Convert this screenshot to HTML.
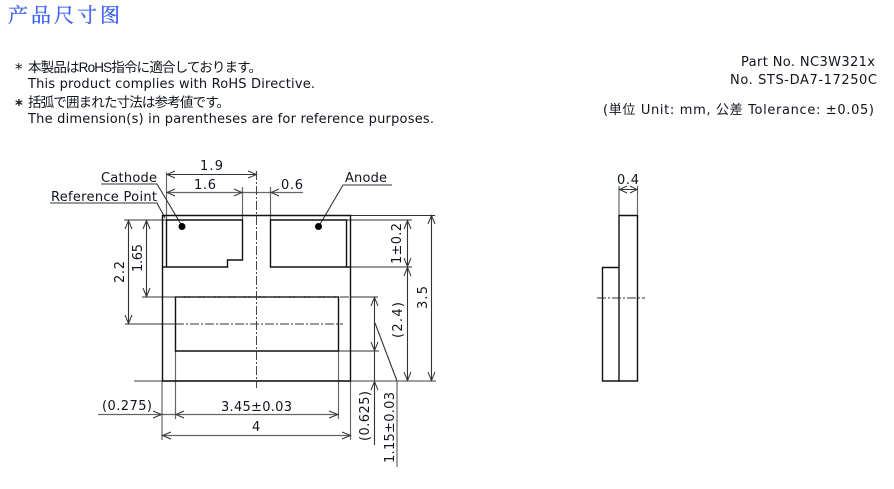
<!DOCTYPE html>
<html><head><meta charset="utf-8"><style>
html,body{margin:0;padding:0;background:#fff}
svg{display:block}
text{font-family:"DejaVu Sans","Noto Sans CJK JP",sans-serif;font-size:13px;fill:#10141c}
.c{font-family:"Liberation Sans","Noto Sans CJK JP",sans-serif;font-size:13.5px}
.k{stroke:#111;stroke-width:1.4;fill:none}
.t{stroke:#333;stroke-width:1.1;fill:none}
.g{stroke:#666;stroke-width:1.2;fill:none}
.d{stroke:#333;stroke-width:.9;fill:none;stroke-dasharray:9 2 2 2}
.a{stroke:#333;stroke-width:1;fill:none}
</style></head><body>
<svg xmlns="http://www.w3.org/2000/svg" width="894" height="489" viewBox="0 0 894 489">
<text x="8" y="22" style="font-family:'Noto Serif CJK SC',serif;font-size:20px;fill:#3f62f2;stroke:#3f62f2;stroke-width:.35" textLength="112">产品尺寸图</text>

<text x="15" y="74" style="font-size:15px">*</text>
<text x="28" y="72" class="c" textLength="234">本製品はRoHS指令に適合しております。</text>
<text x="28" y="88" textLength="287">This product complies with RoHS Directive.</text>
<text x="15" y="110" style="font-size:15px;font-weight:bold">*</text>
<text x="28" y="107" class="c" textLength="202">括弧で囲まれた寸法は参考値です。</text>
<text x="28" y="123" textLength="406">The dimension(s) in parentheses are for reference purposes.</text>

<text x="741" y="66" textLength="134">Part No. NC3W321x</text>
<text x="730" y="84" textLength="147">No. STS-DA7-17250C</text>
<text x="603" y="114" textLength="271">(単位 Unit: mm, 公差 Tolerance: ±0.05)</text>

<!-- extension and dimension lines -->
<path class="g" d="M166.5 172V220M242.5 187V220M270.5 187V220M162 381V440M175.5 351V419M338.5 351V419M350.5 381V440"/>
<path class="t" d="M124 220H166M142 297H175M125 324H175M350 215.5H435M346 220H412M350 267H412M350 297H378M338 351H379M134 381H436"/>
<path class="t" d="M166.5 174.500H256.500M167 192.500H303M128.500 220V324M146.500 220V297M407.500 220V381M431.500 215.500V381M374.500 297V445M98 414.500H338M162 435.500H350"/>
<path class="g" d="M167 192.500H303M98 414.500H338M162 435.500H350M134 381H436"/>
<path class="t" d="M375 323L397 381"/>
<path class="g" d="M397 381V467"/>

<!-- leaders -->
<path class="t" d="M101 184H157L182 226M50 203H157L165 218M392 185H343L319 226"/>
<circle cx="182" cy="226.500" r="3.500" fill="#000"/>
<circle cx="318.500" cy="226.500" r="3.500" fill="#000"/>

<!-- main body -->
<path class="k" d="M162.500 215.500H350.500V381H162.500Z"/>
<path class="k" d="M166.500 220H242.500V260H227.500V267H166.500ZM162.500 267H227.500"/>
<path class="k" d="M270.500 267V220H346.500V267ZM346 267H350"/>
<path class="k" d="M175.500 297H338.500V351H175.500Z"/>
<path class="d" d="M256.500 171V388M175 297H350M175 324H343"/>

<!-- arrowheads -->
<path class="a" d="M175 171L167 174.500L175 178M248 171L256.500 174.500L248 178M175 189L167 192.500L175 196M234 189L242 192.500L234 196M279 189L271 192.500L279 196"/>
<path class="a" d="M125 229L128.500 220.500L132 229M125 315L128.500 323.500L132 315M143 229L146.500 220.500L150 229M143 288L146.500 296.500L150 288"/>
<path class="a" d="M404 229L407.500 220.500L411 229M404 258L407.500 266.500L411 258M404 276L407.500 267.500L411 276M404 372L407.500 380.500L411 372M428 224L431.500 215.500L435 224M428 372L431.500 380.500L435 372"/>
<path class="a" d="M371 306L374.500 297.500L378 306M371 342L374.500 350.500L378 342M371 390L374.500 381.500L378 390"/>
<path class="a" d="M153 411L161.500 414.500L153 418M184 411L176 414.500L184 418M329 411L338 414.500L329 418M171 432L162.500 435.500L171 439M342 432L350.500 435.500L342 439"/>

<!-- side view -->
<path class="k" d="M619 215.500H637.500V381H619ZM619 267.500H602.500V381H619"/>
<path class="d" d="M597 298H645"/>
<path class="g" d="M619 186V215M637.500 186V215"/>
<path class="t" d="M619 189.500H637.500"/>
<path class="a" d="M627 186L619.500 189.500L627 193M630 186L637 189.500L630 193"/>

<!-- labels -->
<text x="200" y="170" textLength="23">1.9</text>
<text x="194" y="189" textLength="22">1.6</text>
<text x="281" y="189" textLength="22">0.6</text>
<text x="101" y="182" textLength="56">Cathode</text>
<text x="51" y="201" textLength="106">Reference Point</text>
<text x="345" y="182" textLength="42">Anode</text>
<text x="617" y="184" textLength="22">0.4</text>
<text transform="translate(124 283) rotate(-90)" textLength="22">2.2</text>
<text transform="translate(142 272) rotate(-90)" textLength="28">1.65</text>
<text transform="translate(401 264) rotate(-90)" textLength="41">1±0.2</text>
<text transform="translate(402 338) rotate(-90)" textLength="36">(2.4)</text>
<text transform="translate(427 309) rotate(-90)" textLength="23">3.5</text>
<text transform="translate(369 441) rotate(-90)" textLength="50">(0.625)</text>
<text transform="translate(394 463) rotate(-90)" textLength="71">1.15±0.03</text>
<text x="102" y="410" textLength="50">(0.275)</text>
<text x="221" y="411" textLength="71">3.45±0.03</text>
<text x="252" y="431">4</text>
</svg>
</body></html>
